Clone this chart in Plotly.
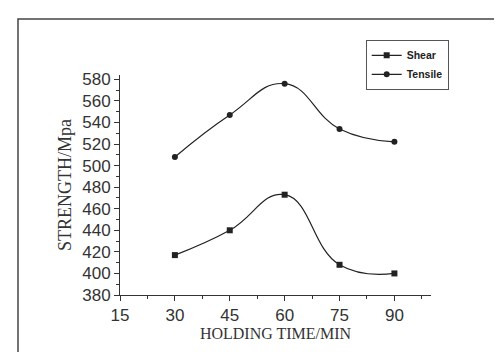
import plotly.graph_objects as go

holding_time = [30, 45, 60, 75, 90]
shear = [417, 440, 473, 408, 400]
tensile = [508, 547, 576, 534, 522]
x_ticks = [15, 30, 45, 60, 75, 90]
y_ticks = [380, 400, 420, 440, 460, 480, 500, 520, 540, 560, 580]

fig = go.Figure()
fig.add_trace(go.Scatter(x=holding_time, y=shear, name="Shear", mode="lines+markers",
                         line=dict(color="#222222", width=1.2, shape="spline", smoothing=1.3),
                         marker=dict(symbol="square", size=6, color="#222222")))
fig.add_trace(go.Scatter(x=holding_time, y=tensile, name="Tensile", mode="lines+markers",
                         line=dict(color="#222222", width=1.2, shape="spline", smoothing=1.3),
                         marker=dict(symbol="circle", size=6, color="#222222")))

axis_common = dict(showline=True, linecolor="#333333", linewidth=1, showgrid=False,
                   zeroline=False, ticks="outside", ticklen=5, tickcolor="#333333",
                   tickfont=dict(family="Arial, Liberation Sans", size=17, color="#333333"))

fig.update_xaxes(range=[15, 100], tickvals=x_ticks, **axis_common,
                 minor=dict(ticks="outside", ticklen=3, dtick=7.5, tick0=15, tickcolor="#333333"),
                 title=dict(text="HOLDING TIME/MIN", standoff=1,
                            font=dict(family="Times New Roman, Liberation Serif", size=16, color="#333333")))
fig.update_yaxes(range=[380, 584], tickvals=y_ticks, **axis_common,
                 minor=dict(ticks="outside", ticklen=3, dtick=10, tick0=380, tickcolor="#333333"),
                 title=dict(text="STRENGTH/Mpa", standoff=5,
                            font=dict(family="Times New Roman, Liberation Serif", size=18, color="#333333")))

fig.add_shape(type="rect", xref="paper", yref="paper",
              x0=-0.328, y0=-0.32, x1=1.27, y1=1.2545,
              line=dict(color="#444444", width=1.5))

fig.update_layout(
    width=502, height=352,
    margin=dict(l=112, r=79, t=67, b=65, autoexpand=False),
    paper_bgcolor="white", plot_bgcolor="white",
    showlegend=True,
    legend=dict(x=0.79, y=1.16, xanchor="left", yanchor="top",
                bordercolor="#555555", borderwidth=1, bgcolor="white",
                font=dict(family="Arial, Liberation Sans", size=10.5, color="#222222", weight="bold"),
                itemwidth=30, tracegroupgap=0),
)

fig.write_html("out.html")
